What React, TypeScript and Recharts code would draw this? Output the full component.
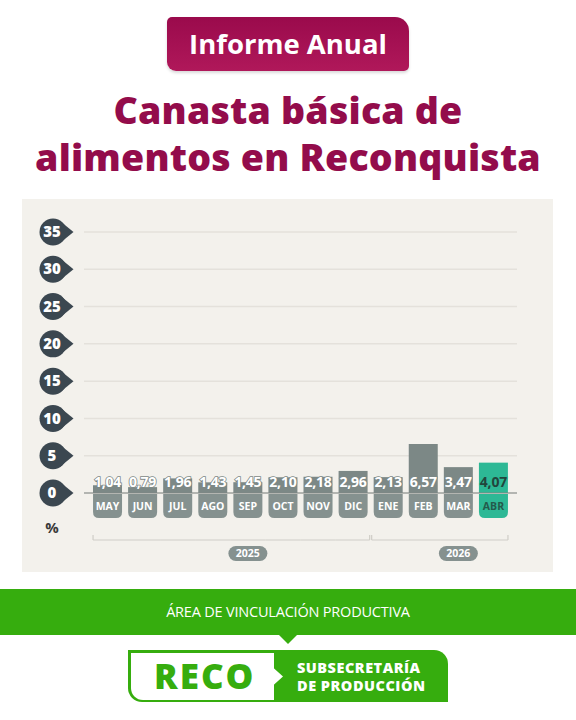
import React from "react";
import { BarChart, Bar, XAxis, YAxis, CartesianGrid, Cell, LabelList } from "recharts";

const months = ["MAY", "JUN", "JUL", "AGO", "SEP", "OCT", "NOV", "DIC", "ENE", "FEB", "MAR", "ABR"];
const values = [1.04, 0.79, 1.96, 1.43, 1.45, 2.1, 2.18, 2.96, 2.13, 6.57, 3.47, 4.07];
const years = ["2025", "2025", "2025", "2025", "2025", "2025", "2025", "2025", "2026", "2026", "2026", "2026"];
const yearTags = ["", "", "", "", "2025", "", "", "", "", "", "2026", ""];
const yTicks = [0, 5, 10, 15, 20, 25, 30, 35];
const highlightMonth = "ABR";

const data = months.map((m, i) => ({ month: m, value: values[i], year: years[i], tag: yearTags[i] }));

const FONT = "'Open Sans', 'Noto Sans', sans-serif";
const BAR_W = 29;
const SLOT = 35.08;
const GRAY = "#7c8886";
const PILL = "#85918f";
const TEAL = "#2db895";
const DARK = "#3b4750";
const MAGENTA = "#930c4b";
const GREEN = "#36ad0e";

const fmt = (v: number) => v.toFixed(2).replace(".", ",");

function YBadge(props: any) {
  const { x, y, payload } = props;
  const cx = x - 31;
  return (
    <g>
      <circle cx={cx} cy={y} r={13.5} fill={DARK} />
      <path d={`M ${cx + 7} ${y - 11} L ${cx + 20.5} ${y} L ${cx + 7} ${y + 11} Z`} fill={DARK} />
      <text x={cx - 1} y={y} dy={5.2} textAnchor="middle" fill="#fff" fontSize={15} fontWeight={800} fontFamily={FONT}>
        {payload.value}
      </text>
    </g>
  );
}

function MonthTick(props: any) {
  const { x, y, payload, index } = props;
  const i = index ?? payload.index;
  const hl = payload.value === highlightMonth;
  const l = x - BAR_W / 2;
  const r = x + BAR_W / 2;
  const top = y + 1;
  const bot = y + 25;
  const rr = 6;
  const pill = `M ${l} ${top} L ${r} ${top} L ${r} ${bot - rr} Q ${r} ${bot} ${r - rr} ${bot} L ${l + rr} ${bot} Q ${l} ${bot} ${l} ${bot - rr} Z`;

  const first = i === 0 || years[i - 1] !== years[i];
  const last = i === months.length - 1 || years[i + 1] !== years[i];
  const by = y + 47;
  const bl = i === 0 ? l : first ? x - SLOT / 2 + 1 : x - SLOT / 2;
  const br = i === months.length - 1 ? r : last ? x + SLOT / 2 - 1 : x + SLOT / 2;
  const tag = yearTags[i];

  return (
    <g>
      <path d={pill} fill={hl ? TEAL : PILL} />
      <text x={x} y={y + 13} dy={4} textAnchor="middle" fill={hl ? "#245a4b" : "#fff"} fontSize={10.5} fontWeight={700} fontFamily={FONT}>
        {payload.value}
      </text>
      <line x1={bl} x2={br} y1={by} y2={by} stroke="#cfcdc7" strokeWidth={1.2} />
      {first && <line x1={bl} x2={bl} y1={by - 5} y2={by} stroke="#cfcdc7" strokeWidth={1.2} />}
      {last && <line x1={br} x2={br} y1={by - 5} y2={by} stroke="#cfcdc7" strokeWidth={1.2} />}
      {tag && (
        <g>
          <rect x={x - 19.5} y={y + 53} width={39} height={15} rx={7.5} fill={PILL} />
          <text x={x} y={y + 60.5} dy={3.8} textAnchor="middle" fill="#fff" fontSize={10.5} fontWeight={700} fontFamily={FONT}>
            {tag}
          </text>
        </g>
      )}
    </g>
  );
}

function ValueLabel(props: any) {
  const { x, y, width, height, value, index } = props;
  const hl = months[index] === highlightMonth;
  return (
    <text
      x={x + width / 2}
      y={y + height - 6}
      textAnchor="middle"
      fill={hl ? "#22463d" : "#fff"}
      stroke={hl ? TEAL : GRAY}
      strokeWidth={1.6}
      paintOrder="stroke"
      fontSize={14}
      fontWeight={700}
      fontFamily={FONT}
      letterSpacing={-0.2}
    >
      {fmt(value)}
    </text>
  );
}

export default function App() {
  return (
    <div style={{ position: "absolute", left: 0, top: 0, width: 576, height: 720, background: "#fff", fontFamily: FONT, overflow: "hidden" }}>
      {/* header badge */}
      <div
        style={{
          position: "absolute", left: 167, top: 17, width: 242, height: 54,
          background: "linear-gradient(180deg, #9a0a4c 0%, #b0185a 100%)",
          borderRadius: "5px 14px 5px 9px",
          boxShadow: "0 2px 3px rgba(0,0,0,0.15)",
          color: "#fff", fontSize: 27.5, fontWeight: 700, textAlign: "center", lineHeight: "54px",
        }}
      >
        Informe Anual
      </div>
      <div
        style={{
          position: "absolute", left: 0, top: 86, width: 576, textAlign: "center",
          color: MAGENTA, fontSize: 37.5, fontWeight: 800, lineHeight: "47px", letterSpacing: 0.2,
        }}
      >
        Canasta básica de
        <br />
        alimentos en Reconquista
      </div>

      {/* chart panel */}
      <div style={{ position: "absolute", left: 22, top: 199, width: 531, height: 373, background: "#f3f1ec" }}>
        <BarChart width={531} height={373} data={data} margin={{ top: 33, right: 36, bottom: 0, left: 0 }} barSize={BAR_W}>
          <CartesianGrid vertical={false} stroke="#e4e1db" strokeWidth={1.5} />
          <YAxis
            domain={[0, 35]}
            ticks={yTicks}
            width={62}
            axisLine={false}
            tickLine={false}
            tickSize={0}
            tickMargin={0}
            tick={<YBadge />}
            interval={0}
          />
          <XAxis
            dataKey="month"
            height={79}
            padding={{ left: 6, right: 6 }}
            axisLine={{ stroke: "#7f8583", strokeWidth: 1.2 }}
            tickLine={false}
            tickSize={0}
            tickMargin={0}
            interval={0}
            tick={<MonthTick />}
          />
          <Bar dataKey="value" isAnimationActive={false}>
            {data.map((d) => (
              <Cell key={d.month} fill={d.month === highlightMonth ? TEAL : GRAY} />
            ))}
            <LabelList dataKey="value" content={<ValueLabel />} />
          </Bar>
        </BarChart>
        <div style={{ position: "absolute", left: 22, top: 318, width: 16, textAlign: "center", fontSize: 15, fontWeight: 700, color: "#3a3a3a" }}>
          %
        </div>
      </div>

      {/* footer */}
      <div
        style={{
          position: "absolute", left: 0, top: 589, width: 576, height: 46, background: GREEN,
          color: "#fff", fontSize: 14.5, textAlign: "center", lineHeight: "46px", letterSpacing: -0.2,
        }}
      >
        ÁREA DE VINCULACIÓN PRODUCTIVA
      </div>
      <div
        style={{
          position: "absolute", left: 278, top: 634, width: 0, height: 0,
          borderLeft: "10px solid transparent", borderRight: "10px solid transparent", borderTop: `10px solid ${GREEN}`,
        }}
      />
      <div
        style={{
          position: "absolute", left: 128, top: 650, width: 320, height: 52, background: GREEN,
          borderRadius: "0 14px 0 14px",
        }}
      >
        <div
          style={{
            position: "absolute", left: 2.5, top: 2.5, width: 143, height: 47, background: "#fff",
            borderRadius: "0 0 0 12px",
          }}
        />
        <svg style={{ position: "absolute", left: 145, top: 2.5 }} width={12} height={47}>
          <path d="M 0 14.5 L 10 23.5 L 0 32.5 Z" fill="#fff" />
        </svg>
        <div
          style={{
            position: "absolute", left: 26, top: 0, height: 52, lineHeight: "52px",
            color: GREEN, fontSize: 35, fontWeight: 800, letterSpacing: 2, whiteSpace: "nowrap",
          }}
        >
          RECO
        </div>
        <div
          style={{
            position: "absolute", left: 169, top: 9, color: "#fff", fontSize: 14.5, fontWeight: 800,
            lineHeight: "17px", whiteSpace: "nowrap", letterSpacing: 0.5,
          }}
        >
          <div>SUBSECRETARÍA</div>
          <div style={{ marginTop: 1 }}>DE PRODUCCIÓN</div>
        </div>
      </div>
    </div>
  );
}
